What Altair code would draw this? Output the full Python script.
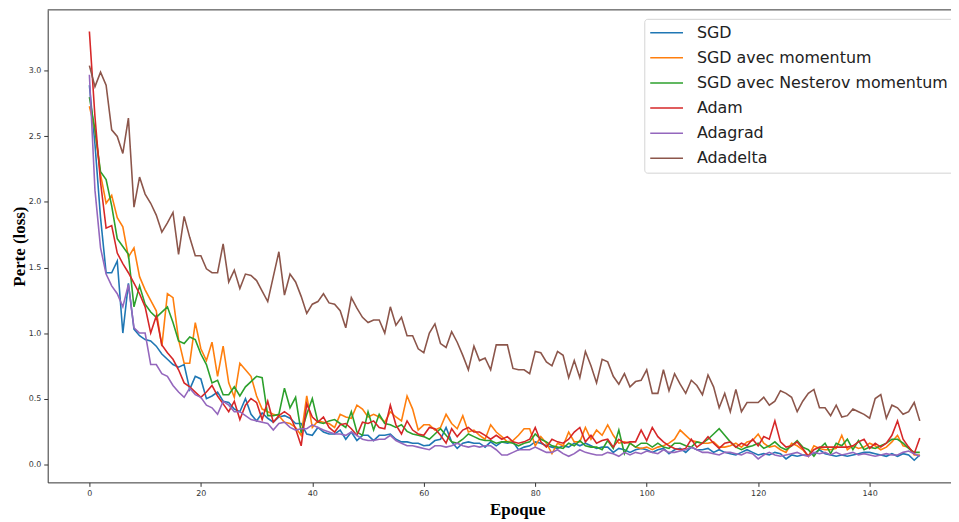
import altair as alt
import pandas as pd

epochs = list(range(150))
series_names = ["SGD", "SGD avec momentum", "SGD avec Nesterov momentum", "Adam", "Adagrad", "Adadelta"]
colors = ["#1f77b4", "#ff7f0e", "#2ca02c", "#d62728", "#9467bd", "#8c564b"]

sgd = [2.89, 2.44, 1.88, 1.46, 1.46, 1.55, 1.00, 1.38, 1.03, 0.98,
       0.95, 0.94, 0.90, 0.84, 0.80, 0.76, 0.74, 0.76, 0.57, 0.67,
       0.65, 0.50, 0.52, 0.55, 0.48, 0.47, 0.42, 0.40, 0.50, 0.38,
       0.33, 0.39, 0.35, 0.32, 0.36, 0.37, 0.35, 0.31, 0.31, 0.23,
       0.22, 0.28, 0.245, 0.23, 0.23, 0.26, 0.19, 0.245, 0.18, 0.22,
       0.22, 0.18, 0.22, 0.22, 0.23, 0.19, 0.17, 0.17, 0.16, 0.16,
       0.14, 0.145, 0.18, 0.19, 0.28, 0.17, 0.12, 0.16, 0.17, 0.16,
       0.16, 0.13, 0.17, 0.14, 0.17, 0.16, 0.17, 0.11, 0.13, 0.14,
       0.17, 0.16, 0.14, 0.13, 0.12, 0.14, 0.13, 0.16, 0.14, 0.16,
       0.14, 0.12, 0.13, 0.13, 0.09, 0.12, 0.11, 0.09, 0.11, 0.12,
       0.11, 0.09, 0.11, 0.12, 0.08, 0.11, 0.12, 0.09, 0.13, 0.11,
       0.11, 0.12, 0.09, 0.11, 0.09, 0.08, 0.07, 0.09, 0.11, 0.09,
       0.07, 0.08, 0.07, 0.09, 0.08, 0.04, 0.07, 0.06, 0.07, 0.07,
       0.08, 0.11, 0.08, 0.07, 0.06, 0.07, 0.06, 0.07, 0.08, 0.09,
       0.09, 0.08, 0.07, 0.06, 0.08, 0.06, 0.08, 0.07, 0.03, 0.07]

momentum = [2.73, 2.55, 2.21, 1.99, 2.05, 1.88, 1.81, 1.58, 1.65, 1.43,
            1.33, 1.25, 1.17, 0.90, 1.30, 1.27, 0.95, 0.77, 0.77, 1.08,
            0.88, 0.79, 0.93, 0.67, 0.90, 0.62, 0.51, 0.77, 0.72, 0.67,
            0.52, 0.42, 0.40, 0.38, 0.37, 0.32, 0.31, 0.28, 0.22, 0.52,
            0.28, 0.33, 0.32, 0.31, 0.28, 0.38, 0.36, 0.35, 0.45, 0.42,
            0.36, 0.38, 0.36, 0.32, 0.40, 0.36, 0.33, 0.52, 0.42, 0.26,
            0.30, 0.30, 0.26, 0.28, 0.38, 0.31, 0.27, 0.37, 0.245, 0.26,
            0.22, 0.19, 0.30, 0.245, 0.21, 0.17, 0.18, 0.22, 0.27, 0.27,
            0.14, 0.21, 0.16, 0.08, 0.16, 0.14, 0.245, 0.17, 0.17, 0.28,
            0.19, 0.26, 0.22, 0.30, 0.22, 0.16, 0.17, 0.16, 0.13, 0.12,
            0.13, 0.11, 0.13, 0.14, 0.16, 0.19, 0.26, 0.22, 0.18, 0.17,
            0.16, 0.16, 0.17, 0.13, 0.13, 0.14, 0.16, 0.13, 0.17, 0.18,
            0.23, 0.16, 0.13, 0.14, 0.11, 0.09, 0.16, 0.14, 0.11, 0.06,
            0.14, 0.12, 0.11, 0.11, 0.12, 0.22, 0.11, 0.14, 0.12, 0.13,
            0.16, 0.14, 0.11, 0.13, 0.17, 0.22, 0.14, 0.13, 0.07, 0.07]

nesterov = [2.80, 2.55, 2.23, 2.17, 1.97, 1.72, 1.66, 1.60, 1.20, 1.36,
            1.22, 1.16, 1.12, 1.16, 1.20, 1.08, 0.94, 0.92, 0.97, 0.95,
            0.84, 0.76, 0.62, 0.64, 0.53, 0.53, 0.59, 0.52, 0.59, 0.63,
            0.67, 0.66, 0.37, 0.37, 0.38, 0.58, 0.43, 0.51, 0.24, 0.38,
            0.50, 0.32, 0.31, 0.33, 0.34, 0.31, 0.28, 0.40, 0.245, 0.22,
            0.40, 0.26, 0.38, 0.31, 0.30, 0.28, 0.30, 0.25, 0.23, 0.22,
            0.21, 0.19, 0.23, 0.27, 0.22, 0.17, 0.16, 0.19, 0.23, 0.21,
            0.19, 0.18, 0.18, 0.16, 0.17, 0.17, 0.16, 0.14, 0.16, 0.17,
            0.23, 0.19, 0.17, 0.14, 0.13, 0.12, 0.16, 0.14, 0.18, 0.14,
            0.13, 0.13, 0.11, 0.18, 0.12, 0.26, 0.08, 0.16, 0.13, 0.16,
            0.16, 0.13, 0.16, 0.13, 0.12, 0.16, 0.16, 0.14, 0.13, 0.17,
            0.16, 0.19, 0.23, 0.27, 0.22, 0.17, 0.13, 0.11, 0.13, 0.14,
            0.16, 0.12, 0.14, 0.17, 0.13, 0.11, 0.14, 0.18, 0.13, 0.11,
            0.06, 0.12, 0.16, 0.08, 0.16, 0.14, 0.19, 0.11, 0.18, 0.11,
            0.13, 0.12, 0.14, 0.16, 0.19, 0.19, 0.16, 0.12, 0.09, 0.09]

adam = [3.30, 2.65, 2.15, 1.80, 1.82, 1.61, 1.53, 1.46, 1.38, 1.30,
        1.20, 1.00, 1.13, 0.91, 0.85, 0.80, 0.72, 0.62, 0.59, 0.55,
        0.51, 0.55, 0.60, 0.52, 0.46, 0.40, 0.48, 0.34, 0.45, 0.50,
        0.47, 0.34, 0.48, 0.32, 0.37, 0.40, 0.37, 0.27, 0.14, 0.46,
        0.36, 0.32, 0.36, 0.28, 0.245, 0.30, 0.31, 0.27, 0.22, 0.32,
        0.31, 0.33, 0.28, 0.27, 0.45, 0.30, 0.23, 0.33, 0.26, 0.23,
        0.22, 0.28, 0.27, 0.22, 0.16, 0.27, 0.21, 0.26, 0.28, 0.245,
        0.245, 0.22, 0.19, 0.22, 0.19, 0.21, 0.17, 0.16, 0.17, 0.19,
        0.28, 0.17, 0.13, 0.19, 0.17, 0.16, 0.19, 0.245, 0.28, 0.17,
        0.22, 0.16, 0.18, 0.19, 0.13, 0.19, 0.16, 0.17, 0.17, 0.26,
        0.18, 0.28, 0.21, 0.17, 0.14, 0.12, 0.11, 0.12, 0.19, 0.13,
        0.16, 0.21, 0.16, 0.12, 0.16, 0.17, 0.13, 0.16, 0.14, 0.19,
        0.14, 0.21, 0.19, 0.33, 0.17, 0.13, 0.14, 0.17, 0.12, 0.06,
        0.11, 0.13, 0.13, 0.13, 0.13, 0.13, 0.13, 0.14, 0.17, 0.19,
        0.12, 0.16, 0.13, 0.16, 0.22, 0.33, 0.19, 0.13, 0.08, 0.20]

adagrad = [2.97, 2.09, 1.65, 1.45, 1.36, 1.30, 1.20, 1.37, 1.04, 1.00,
           1.00, 0.76, 0.76, 0.69, 0.67, 0.60, 0.55, 0.51, 0.58, 0.53,
           0.51, 0.45, 0.43, 0.38, 0.48, 0.45, 0.40, 0.40, 0.37, 0.34,
           0.33, 0.32, 0.31, 0.26, 0.31, 0.32, 0.28, 0.26, 0.27, 0.27,
           0.30, 0.28, 0.26, 0.245, 0.23, 0.23, 0.22, 0.245, 0.22, 0.19,
           0.18, 0.18, 0.19, 0.19, 0.22, 0.18, 0.16, 0.14, 0.14, 0.13,
           0.12, 0.11, 0.14, 0.14, 0.13, 0.14, 0.16, 0.14, 0.13, 0.14,
           0.13, 0.14, 0.14, 0.11, 0.07, 0.07, 0.09, 0.11, 0.11, 0.11,
           0.13, 0.11, 0.09, 0.09, 0.11, 0.08, 0.06, 0.08, 0.11, 0.09,
           0.08, 0.07, 0.07, 0.09, 0.08, 0.06, 0.09, 0.07, 0.09, 0.08,
           0.10, 0.09, 0.08, 0.11, 0.09, 0.09, 0.10, 0.11, 0.13, 0.11,
           0.09, 0.09, 0.08, 0.07, 0.09, 0.09, 0.08, 0.07, 0.09, 0.08,
           0.04, 0.07, 0.09, 0.07, 0.06, 0.07, 0.08, 0.09, 0.07, 0.06,
           0.09, 0.08, 0.09, 0.07, 0.09, 0.07, 0.08, 0.09, 0.07, 0.08,
           0.07, 0.06, 0.07, 0.08, 0.07, 0.07, 0.09, 0.10, 0.08, 0.06]

adadelta = [3.04, 2.88, 2.99, 2.89, 2.55, 2.50, 2.37, 2.64, 1.96, 2.19,
            2.06, 1.99, 1.90, 1.77, 1.84, 1.92, 1.60, 1.89, 1.73, 1.59,
            1.59, 1.49, 1.46, 1.46, 1.68, 1.39, 1.48, 1.34, 1.45, 1.44,
            1.40, 1.32, 1.24, 1.43, 1.62, 1.29, 1.45, 1.39, 1.28, 1.15,
            1.22, 1.24, 1.30, 1.23, 1.22, 1.17, 1.04, 1.27, 1.19, 1.12,
            1.08, 1.10, 1.10, 1.00, 1.20, 1.06, 1.12, 0.98, 0.98, 0.88,
            0.85, 1.00, 1.07, 0.92, 0.89, 1.01, 0.93, 0.83, 0.72, 0.90,
            0.79, 0.81, 0.72, 0.91, 0.91, 0.91, 0.73, 0.72, 0.72, 0.69,
            0.86, 0.85, 0.78, 0.75, 0.86, 0.83, 0.66, 0.79, 0.66, 0.86,
            0.75, 0.62, 0.80, 0.78, 0.67, 0.61, 0.69, 0.59, 0.63, 0.64,
            0.72, 0.54, 0.54, 0.72, 0.56, 0.69, 0.61, 0.54, 0.64, 0.60,
            0.53, 0.68, 0.59, 0.43, 0.54, 0.40, 0.57, 0.40, 0.47, 0.47,
            0.47, 0.51, 0.45, 0.48, 0.56, 0.54, 0.51, 0.40, 0.48, 0.54,
            0.57, 0.43, 0.43, 0.37, 0.45, 0.36, 0.37, 0.42, 0.40, 0.38,
            0.35, 0.50, 0.53, 0.35, 0.45, 0.43, 0.38, 0.40, 0.47, 0.33]

x_ticks = [0, 20, 40, 60, 80, 100, 120, 140]
y_ticks = [0.0, 0.5, 1.0, 1.5, 2.0, 2.5, 3.0]

all_series = [sgd, momentum, nesterov, adam, adagrad, adadelta]
rows = []
for name, vals in zip(series_names, all_series):
    for e, v in zip(epochs, vals):
        rows.append({"epoch": e, "loss": v, "optim": name})
df = pd.DataFrame(rows)

W, H = 910, 476

lines = alt.Chart(df).mark_line(strokeWidth=1.6, clip=True).encode(
    x=alt.X("epoch:Q",
            scale=alt.Scale(domain=[-7.48, 154.6], nice=False, zero=False),
            axis=alt.Axis(values=x_ticks, format="d", title="Epoque",
                          titleX=473, titleY=32, titleAlign="center",
                          titleBaseline="alphabetic")),
    y=alt.Y("loss:Q",
            scale=alt.Scale(domain=[-0.139, 3.465], nice=False, zero=False),
            axis=alt.Axis(values=y_ticks, format=".1f", title="Perte (loss)",
                          titleX=-28, titleY=238, titleAlign="center",
                          titleBaseline="middle", titleAngle=270)),
    color=alt.Color("optim:N",
                    scale=alt.Scale(domain=series_names, range=colors),
                    sort=series_names,
                    legend=alt.Legend(
                        title=None, orient="none", legendX=601, legendY=9,
                        symbolType="M-1.4545,0L4.5455,0", symbolSize=121,
                        symbolStrokeWidth=1.5, labelFontSize=16,
                        labelFont="DejaVu Sans", labelColor="#222",
                        labelOffset=31, rowPadding=9.3, padding=6,
                        strokeColor="#d4d4d4", fillColor="white",
                        cornerRadius=3, labelLimit=400)),
)

top_border = alt.Chart(pd.DataFrame({"k": [0]})).mark_rule(
    color="#333", strokeWidth=1
).encode(x=alt.value(0), x2=alt.value(W), y=alt.value(0))

chart = alt.layer(lines, top_border).properties(
    width=W, height=H,
    autosize=alt.AutoSizeParams(type="none"),
    padding={"left": 40, "top": 0, "right": 0, "bottom": 36},
).configure_view(stroke=None).configure_axis(
    grid=False,
    domainColor="#333", domainWidth=1,
    tickColor="#333", tickSize=4, tickWidth=1,
    labelFont="DejaVu Sans", labelFontSize=8, labelColor="#333",
    labelPadding=3,
    titleFont="Liberation Serif", titleFontWeight="bold",
    titleFontSize=17, titleColor="#000",
).configure_axisX(labelFlush=False).configure_axisY(labelFlush=False)

chart.save("out.html", embed_options={"renderer": "svg", "actions": False})
